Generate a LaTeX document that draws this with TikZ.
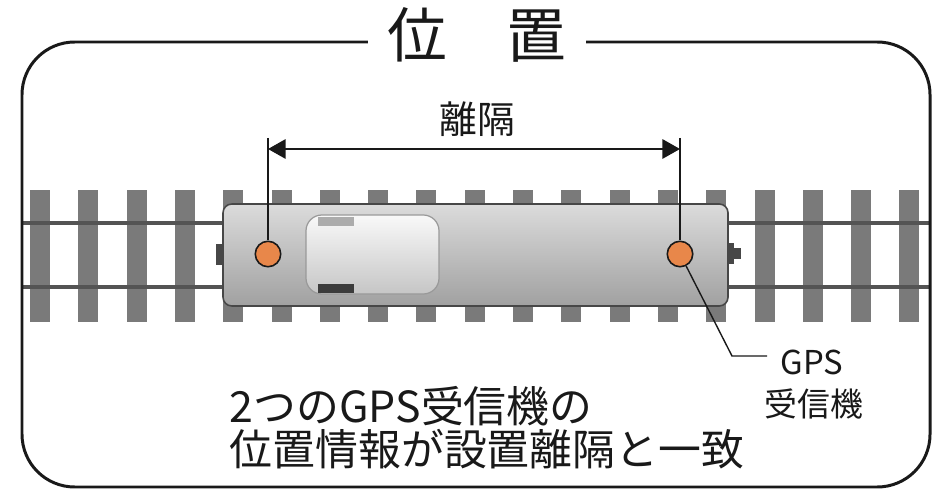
\documentclass[tikz,border=0pt]{standalone}
\usepackage{fontspec}
\setmainfont{Noto Sans CJK JP}
\usetikzlibrary{arrows.meta}

\definecolor{tieGray}{rgb}{0.48,0.48,0.48}
\definecolor{railGray}{rgb}{0.33,0.33,0.33}
\definecolor{bodyTop}{rgb}{0.86,0.86,0.86}
\definecolor{bodyBottom}{rgb}{0.63,0.63,0.63}
\definecolor{gpsOrange}{rgb}{0.91,0.53,0.29}
\definecolor{strokecol}{rgb}{0.1,0.1,0.1}

\begin{document}
\begin{tikzpicture}[x=0.02cm, y=-0.02cm,
    gps/.style={circle, fill=gpsOrange, draw=strokecol, line width=0.9pt, minimum size=14.5pt, inner sep=0},
    lbl/.style={inner sep=0, outer sep=1, text=strokecol}]

    \pgfsetlinewidth{0.75bp}
    \useasboundingbox (0,0) rectangle (935,489);

    \def\tieGap{48.3}
    \def\railTop{223}
    \def\railBot{287}

    % sleepers and rails
    \foreach \i in {0,...,18}
        \fill[tieGray] ({30+\tieGap*\i},190) rectangle +(20,132);
    \draw[railGray, line width=2.3pt] (22,\railTop) -- (930,\railTop);
    \draw[railGray, line width=2.3pt] (22,\railBot) -- (930,\railBot);

    % couplers
    \fill[strokecol!80] (216,244) rectangle (224,265);
    \fill[strokecol!80] (727,243) rectangle (734,264);
    \fill[strokecol!80] (734,248) rectangle (741,259);

    % car body
    \draw[draw=strokecol!80, line width=0.9pt, top color=bodyTop, bottom color=bodyBottom, rounded corners=5]
        (223,204) rectangle (728,306);
    % cab window
    \draw[draw=gray!80, line width=0.7pt, top color=gray!5, bottom color=gray!45, rounded corners=9]
        (306,215) rectangle (439,294);
    \fill[gray!65] (318,217) rectangle (354,226);
    \fill[strokecol!85] (318,284) rectangle (354,293);

    % receivers
    \node[gps] (gpsL) at (268,254) {};
    \node[gps] (gpsR) at (680,254) {};

    % spacing between receivers
    \coordinate (tickL) at (268,138);
    \coordinate (tickR) at (680,138);
    \coordinate (arrL) at (268,149);
    \coordinate (arrR) at (680,149);
    \draw[strokecol, line width=0.8pt] (tickL) -- (gpsL);
    \draw[strokecol, line width=0.8pt] (tickR) -- (gpsR);
    \draw[strokecol, line width=1.1pt, {Triangle[length=10pt, width=11pt]}-{Triangle[length=10pt, width=11pt]}] (arrL) -- (arrR);
    \node[lbl, anchor=base, font=\fontsize{21.5}{24}\selectfont] (gap) at (477,134) {離隔};

    % leader to label
    \coordinate (leadBend) at (732,356);
    \coordinate (leadEnd) at (767,356);
    \draw[strokecol, line width=0.8pt] (gpsR) -- (leadBend) -- (leadEnd);
    \node[lbl, anchor=base, font=\fontsize{18.7}{22}\selectfont] (gpsText) at (812,374) {GPS};
    \node[lbl, anchor=base, font=\fontsize{18.7}{22}\selectfont] (rxText) at (814,416) {受信機};

    % note
    \node[lbl, anchor=base west, font=\fontsize{24.4}{28}\selectfont] (noteA) at (228,422) {2つのGPS受信機の};
    \node[lbl, anchor=base west, font=\fontsize{24.4}{28}\selectfont] (noteB) at (228,465) {位置情報が設置離隔と一致};

    % frame with title
    \draw[strokecol, line width=1.7pt, rounded corners=30] (477,42) -- (22,42) -- (22,487) -- (930,487) -- (930,42) -- cycle;
    \node[fill=white, inner xsep=11pt, inner ysep=0pt, anchor=base, text=strokecol, font=\fontsize{34}{40}\selectfont] (title) at (477,58) {位　置};
\end{tikzpicture}
\end{document}
